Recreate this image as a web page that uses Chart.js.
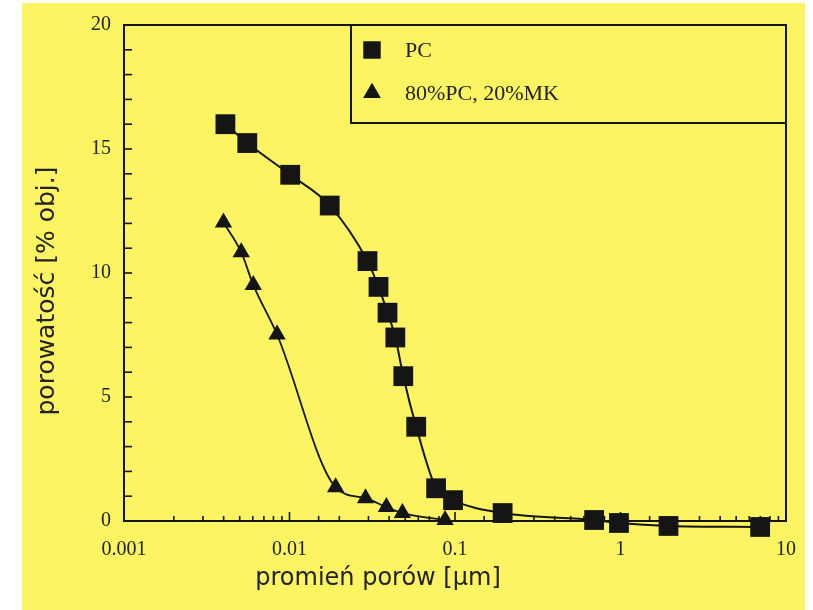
<!DOCTYPE html>
<html lang="pl">
<head>
<meta charset="utf-8">
<title>Porowatość</title>
<script src="https://cdn.jsdelivr.net/npm/chart.js@4.4.0/dist/chart.umd.min.js"></script>
<style>
  html, body { margin: 0; padding: 0; background: #ffffff; }
  #wrap { width: 813px; height: 610px; position: relative; }
</style>
</head>
<body>
<div id="wrap"><canvas id="wykres" width="813" height="610"></canvas></div>
<script>
// Dane (promień porów w µm, porowatość w % obj.)
const promienPC = [0.0041, 0.00556, 0.0101, 0.0175, 0.0296, 0.0345, 0.0391, 0.0436, 0.0487, 0.0583, 0.0769, 0.0973, 0.194, 0.693, 0.979, 1.95, 6.98]
const porowatoscPC = [16.0, 15.24, 13.96, 12.72, 10.48, 9.44, 8.4, 7.4, 5.84, 3.8, 1.32, 0.84, 0.32, 0.04, -0.08, -0.2, -0.24]

const promienMK = [0.00399, 0.00511, 0.00604, 0.00841, 0.019, 0.0288, 0.0385, 0.0481, 0.0871]
const porowatoscMK = [12.04, 10.84, 9.52, 7.52, 1.36, 0.92, 0.56, 0.32, 0.04]

const etykietySerii = ["PC", "80%PC, 20%MK"]
const etykietyX = ["0.001", "0.01", "0.1", "1", "10"]
const etykietyY = [0, 5, 10, 15, 20]
const tytulX = "promień porów [µm]"
const tytulY = "porowatość [% obj.]"

const kolorTla = "#fcf462"
const kolorCzarny = "#151515"
const czcionkaSerif = "'Liberation Serif', 'Times New Roman', serif"
const czcionkaSans = "'DejaVu Sans', 'Noto Sans', sans-serif"

function punkty(xs, ys) {
  return xs.map((x, i) => ({ x: x, y: ys[i] }))
}

// Tło (żółte) z białym marginesem jak na skanie
const tloPlugin = {
  id: "tlo",
  beforeDraw(chart) {
    const ctx = chart.ctx
    ctx.save()
    ctx.fillStyle = "#ffffff"
    ctx.fillRect(0, 0, chart.width, chart.height)
    ctx.fillStyle = kolorTla
    ctx.fillRect(22, 3, 783, 607)
    ctx.restore()
  },
}

// Ramka, znaczniki do środka, tytuły osi i legenda w ramce
const ramkaPlugin = {
  id: "ramka",
  afterDatasetsDraw(chart) {
    const ctx = chart.ctx
    const a = chart.chartArea
    const sx = chart.scales.x
    const sy = chart.scales.y
    ctx.save()
    ctx.strokeStyle = kolorCzarny
    ctx.lineWidth = 2
    ctx.strokeRect(a.left, a.top, a.right - a.left, a.bottom - a.top)

    // znaczniki osi X (log)
    ctx.lineWidth = 1.6
    sx.ticks.forEach((t) => {
      const px = sx.getPixelForValue(t.value)
      const wykl = Math.log10(t.value)
      const glowny = Math.abs(wykl - Math.round(wykl)) < 1e-6
      const dl = glowny ? 9 : 5
      ctx.beginPath()
      ctx.moveTo(px, a.bottom)
      ctx.lineTo(px, a.bottom - dl)
      ctx.stroke()
    })
    // znaczniki osi Y
    sy.ticks.forEach((t) => {
      const py = sy.getPixelForValue(t.value)
      ctx.beginPath()
      ctx.moveTo(a.left, py)
      ctx.lineTo(a.left + 8, py)
      ctx.stroke()
    })

    // tytuły osi (na skanie przesunięte względem środka)
    ctx.fillStyle = "#222"
    ctx.textAlign = "center"
    ctx.textBaseline = "middle"
    ctx.font = "24px " + czcionkaSans
    ctx.fillText(tytulX, 378, 579)
    ctx.save()
    ctx.translate(47, 291)
    ctx.rotate(-Math.PI / 2)
    ctx.font = "25px " + czcionkaSans
    ctx.fillText(tytulY, 0, 0)
    ctx.restore()

    // legenda
    const lx = 351, ly = a.top, lw = a.right - 351, lh = 98
    ctx.lineWidth = 2
    ctx.strokeRect(lx, ly, lw, lh)
    const ds = chart.data.datasets
    const wiersze = [50, 93]
    const rozmiary = [12, 10]
    ds.forEach((d, i) => {
      ctx.fillStyle = kolorCzarny
      Chart.helpers.drawPoint(ctx, {
        pointStyle: d.pointStyle,
        radius: rozmiary[i],
        rotation: 0,
        borderWidth: 0,
      }, 372, wiersze[i])
      ctx.fill()
      ctx.fillStyle = "#222"
      ctx.font = "22px " + czcionkaSerif
      ctx.textAlign = "left"
      ctx.textBaseline = "middle"
      ctx.fillText(d.label, 405, wiersze[i] + 1)
    })
    ctx.restore()
  },
}

const ctx = document.getElementById("wykres").getContext("2d")

const wykres = new Chart(ctx, {
  type: "line",
  data: {
    datasets: [
      {
        label: etykietySerii[0],
        data: punkty(promienPC, porowatoscPC),
        borderColor: kolorCzarny,
        backgroundColor: kolorCzarny,
        borderWidth: 2,
        pointStyle: "rect",
        pointRadius: 14,
        pointBorderWidth: 0,
        cubicInterpolationMode: "monotone",
        clip: false,
      },
      {
        label: etykietySerii[1],
        data: punkty(promienMK, porowatoscMK),
        borderColor: kolorCzarny,
        backgroundColor: kolorCzarny,
        borderWidth: 1.8,
        pointStyle: "triangle",
        pointRadius: 10,
        pointBorderWidth: 0,
        cubicInterpolationMode: "monotone",
        clip: false,
      },
    ],
  },
  options: {
    responsive: false,
    animation: false,
    layout: { padding: { left: 0, right: 23, top: 22, bottom: 0 } },
    plugins: {
      legend: { display: false },
      tooltip: { enabled: false },
    },
    scales: {
      x: {
        type: "logarithmic",
        min: 0.001,
        max: 10,
        grid: { display: false, drawTicks: false },
        border: { display: false },
        afterFit: (s) => { s.height = 89 },
        ticks: {
          autoSkip: false,
          maxRotation: 0,
          padding: 17,
          color: "#222",
          font: { family: czcionkaSerif, size: 20 },
          callback: function (v) {
            const w = Math.log10(v)
            if (Math.abs(w - Math.round(w)) > 1e-6) return ""
            return etykietyX[Math.round(w) + 3]
          },
        },
        title: { display: false },
      },
      y: {
        min: 0,
        max: 20,
        grid: { display: false, drawTicks: false },
        border: { display: false },
        afterFit: (s) => { s.width = 124 },
        ticks: {
          stepSize: 1,
          autoSkip: false,
          padding: 13,
          color: "#222",
          font: { family: czcionkaSerif, size: 20 },
          callback: (v) => (etykietyY.includes(v) ? String(v) : ""),
        },
        title: { display: false },
      },
    },
  },
  plugins: [tloPlugin, ramkaPlugin],
})
</script>
</body>
</html>
